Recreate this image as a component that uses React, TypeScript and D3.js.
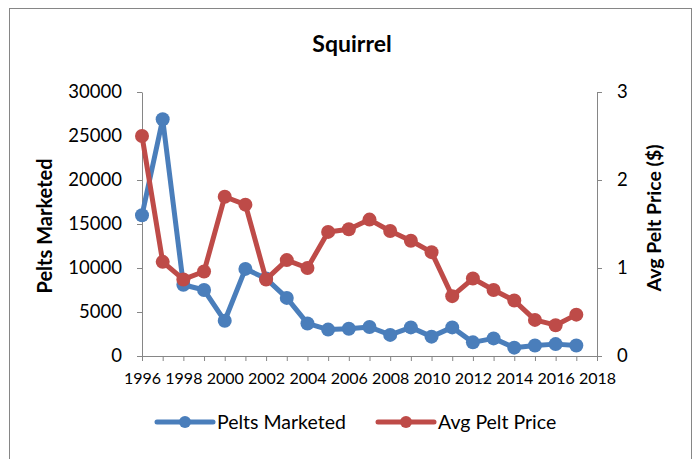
import React, { useEffect, useRef } from "react";
import * as d3 from "d3";

const years = [1996, 1997, 1998, 1999, 2000, 2001, 2002, 2003, 2004, 2005, 2006, 2007, 2008, 2009, 2010, 2011, 2012, 2013, 2014, 2015, 2016, 2017];
const peltsMarketed = [16000, 26900, 8100, 7500, 4000, 9900, 8800, 6600, 3700, 3000, 3100, 3300, 2400, 3250, 2200, 3250, 1550, 2000, 950, 1200, 1350, 1200];
const avgPeltPrice = [2.5, 1.07, 0.87, 0.96, 1.81, 1.72, 0.87, 1.09, 1.0, 1.41, 1.44, 1.55, 1.42, 1.31, 1.18, 0.68, 0.88, 0.75, 0.63, 0.41, 0.35, 0.47];
const leftTicks = [0, 5000, 10000, 15000, 20000, 25000, 30000];
const rightTicks = [0, 1, 2, 3];
const yearLabels = [1996, 1998, 2000, 2002, 2004, 2006, 2008, 2010, 2012, 2014, 2016, 2018];

const BLUE = "#4a7ebb";
const RED = "#be4b48";
const AXIS = "#868686";
const FONT = "Lato, 'Open Sans', sans-serif";

export default function App() {
  const ref = useRef<SVGSVGElement>(null);

  useEffect(() => {
    const svg = d3.select(ref.current);
    svg.selectAll("*").remove();

    const left = 142, right = 597, top = 92, bottom = 356;

    const x = d3.scaleLinear().domain([1996, 2018]).range([left, right]);
    const yL = d3.scaleLinear().domain([0, 30000]).range([bottom, top]);
    const yR = d3.scaleLinear().domain([0, 3]).range([bottom, top]);

    // chart border
    svg.append("rect")
      .attr("x", 9.5).attr("y", 8.5).attr("width", 682).attr("height", 470)
      .attr("fill", "white").attr("stroke", AXIS).attr("stroke-width", 1);

    // title
    svg.append("text")
      .attr("x", 352).attr("y", 52)
      .attr("text-anchor", "middle")
      .style("font-family", FONT).style("font-size", "23px").style("font-weight", "bold")
      .text("Squirrel");

    const styleAxis = (g: any, size: number) => {
      g.selectAll("path").attr("stroke", AXIS);
      g.selectAll("line").attr("stroke", AXIS);
      g.selectAll("text").style("font-family", FONT).style("font-size", `${size}px`).attr("fill", "#000");
    };

    // x axis: ticks every year, labels every 2 years
    const xg = svg.append("g").attr("transform", `translate(0,${bottom})`);
    xg.call(d3.axisBottom(x).tickValues(d3.range(1996, 2019)).tickSize(5).tickSizeOuter(0).tickFormat(() => ""));
    const xl = svg.append("g").attr("transform", `translate(0,${bottom})`);
    xl.call(d3.axisBottom(x).tickValues(yearLabels).tickSize(0).tickPadding(17).tickFormat(d3.format("d")));
    xl.select(".domain").remove();
    styleAxis(xg, 16);
    styleAxis(xl, 16);

    // left axis
    const lg = svg.append("g").attr("transform", `translate(${left},0)`);
    lg.call(d3.axisLeft(yL).tickValues(leftTicks).tickSize(5).tickSizeOuter(0).tickPadding(15).tickFormat(d3.format("d")));
    styleAxis(lg, 18.5);

    // right axis
    const rg = svg.append("g").attr("transform", `translate(${right},0)`);
    rg.call(d3.axisRight(yR).tickValues(rightTicks).tickSize(5).tickSizeOuter(0).tickPadding(15).tickFormat(d3.format("d")));
    styleAxis(rg, 18.5);

    // axis titles
    svg.append("text")
      .attr("transform", `translate(52,226) rotate(-90)`)
      .attr("text-anchor", "middle")
      .style("font-family", FONT).style("font-size", "20px").style("font-weight", "bold")
      .text("Pelts Marketed");
    svg.append("text")
      .attr("transform", `translate(661,218) rotate(-90)`)
      .attr("text-anchor", "middle")
      .style("font-family", FONT).style("font-size", "19.5px").style("font-weight", "bold")
      .text("Avg Pelt Price ($)");

    // series
    const drawSeries = (values: number[], y: any, color: string) => {
      const line = d3.line<number>().x((d, i) => x(years[i])).y((d) => y(d));
      svg.append("path")
        .datum(values)
        .attr("d", line)
        .attr("fill", "none")
        .attr("stroke", color)
        .attr("stroke-width", 5)
        .attr("stroke-linejoin", "round");
      svg.append("g").selectAll("circle")
        .data(values)
        .join("circle")
        .attr("cx", (d, i) => x(years[i]))
        .attr("cy", (d) => y(d))
        .attr("r", 7)
        .attr("fill", color);
    };
    drawSeries(peltsMarketed, yL, BLUE);
    drawSeries(avgPeltPrice, yR, RED);

    // legend
    const legend = [
      { label: "Pelts Marketed", color: BLUE, x: 157 },
      { label: "Avg Pelt Price", color: RED, x: 378 },
    ];
    const lgd = svg.append("g");
    legend.forEach((item) => {
      lgd.append("line")
        .attr("x1", item.x).attr("x2", item.x + 56).attr("y1", 422).attr("y2", 422)
        .attr("stroke", item.color).attr("stroke-width", 5).attr("stroke-linecap", "round");
      lgd.append("circle").attr("cx", item.x + 28).attr("cy", 422).attr("r", 6).attr("fill", item.color);
      lgd.append("text")
        .attr("x", item.x + 60).attr("y", 429)
        .style("font-family", FONT).style("font-size", "19.5px")
        .text(item.label);
    });
  }, []);

  return (
    <svg ref={ref} width={700} height={459} style={{ position: "absolute", left: 0, top: 0, background: "white" }} />
  );
}
